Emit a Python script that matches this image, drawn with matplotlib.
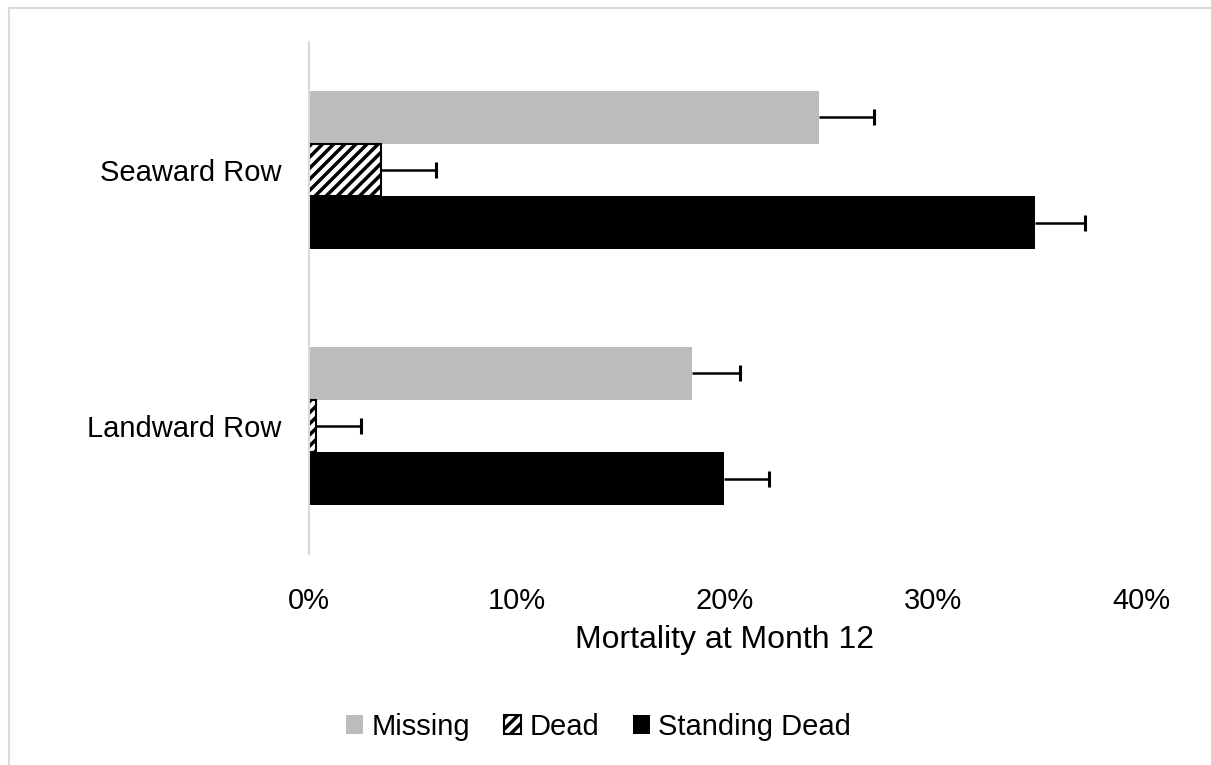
import matplotlib.pyplot as plt
from matplotlib.lines import Line2D
import numpy as np

plt.rcParams['font.family'] = ['Liberation Sans', 'DejaVu Sans']
plt.rcParams['hatch.linewidth'] = 2.5

# Data (fractions)
rows = ['Seaward Row', 'Landward Row']
missing = [0.245, 0.184]
missing_err = [0.0265, 0.023]
dead = [0.0345, 0.0032]
dead_err = [0.0265, 0.022]
standing = [0.349, 0.1995]
standing_err = [0.024, 0.0215]
ticks = [0, 0.1, 0.2, 0.3, 0.4]
tick_labels = ['0%', '10%', '20%', '30%', '40%']

fig = plt.figure(figsize=(12.11, 7.65), dpi=100)
ax = fig.add_axes([309 / 1211, 1 - 554 / 765, (1141 - 309) / 1211, 512 / 765])

y = np.arange(len(rows))
h = 0.207

def plus_error(ypos, vals, errs):
    vals = np.asarray(vals)
    ends = vals + np.asarray(errs)
    ax.hlines(ypos, vals, ends, color='black', lw=1.8, zorder=3)
    ax.plot(ends, ypos, ls='none', marker='|', ms=11, mew=2.2,
            color='black', zorder=3)

ax.barh(y - h, missing, height=h, color='#bcbcbc', label='Missing')
ax.barh(y, dead, height=h, color='white', edgecolor='black', linewidth=1.5,
        hatch='///', label='Dead')
ax.barh(y + h, standing, height=h, color='black', label='Standing Dead')
plus_error(y - h, missing, missing_err)
plus_error(y, dead, dead_err)
plus_error(y + h, standing, standing_err)

ax.set_ylim(1.5, -0.5)
ax.set_xlim(0, 0.4)
ax.set_yticks(y)
ax.set_yticklabels(rows, fontsize=21)
ax.set_xticks(ticks)
ax.set_xticklabels(tick_labels, fontsize=21)
ax.tick_params(length=0)
ax.tick_params(axis='x', pad=24)
ax.tick_params(axis='y', pad=20)
ax.set_xlabel('Mortality at Month 12', fontsize=23, labelpad=7)

for s in ['top', 'right', 'bottom']:
    ax.spines[s].set_visible(False)
ax.spines['left'].set_color('#d9d9d9')
ax.spines['left'].set_linewidth(1.5)

leg = fig.legend(loc='center', bbox_to_anchor=(598.5 / 1211, 1 - 727 / 765),
                 ncol=3, frameon=False, fontsize=21, handlelength=0.6,
                 handleheight=0.6, handletextpad=0.28, columnspacing=1.15)

# outer chart frame
fig.add_artist(Line2D([8.5 / 1211, 8.5 / 1211], [0, 1 - 7.5 / 765],
                      color='#d9d9d9', lw=1.5))
fig.add_artist(Line2D([8.5 / 1211, 1], [1 - 7.5 / 765, 1 - 7.5 / 765],
                      color='#d9d9d9', lw=1.5))

fig.savefig('out.png', dpi=100)
